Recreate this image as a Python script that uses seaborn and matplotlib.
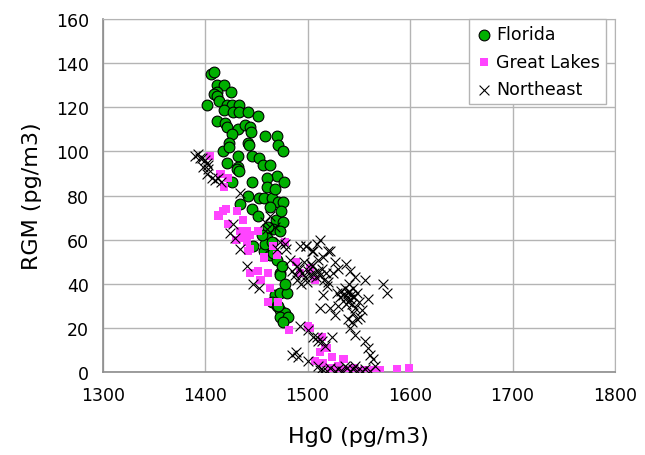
import matplotlib
matplotlib.use('Agg')
import matplotlib.pyplot as plt
import seaborn as sns
import pandas as pd

# Florida
fl_x = [1406, 1409, 1412, 1418, 1412, 1425, 1409, 1412, 1402, 1414,
        1421, 1426, 1433, 1418, 1427, 1433, 1442, 1452, 1412, 1419,
        1421, 1432, 1439, 1444, 1445, 1426, 1458, 1470, 1442, 1471,
        1423, 1443, 1476, 1417, 1423, 1432, 1446, 1453, 1421, 1432,
        1456, 1463, 1431, 1433, 1470, 1460, 1446, 1477, 1426, 1460,
        1442, 1453, 1457, 1465, 1471, 1476, 1434, 1446, 1463, 1452,
        1469, 1476, 1466, 1473, 1460, 1447, 1463, 1457, 1458, 1465,
        1463, 1470, 1473, 1473, 1468, 1473, 1480, 1465, 1470, 1473,
        1478, 1473, 1481, 1476, 1471, 1478, 1475, 1466, 1468, 1474,
        1461, 1455]
fl_y = [135, 136, 130, 130, 127, 127, 126, 125, 121, 123,
        121, 121, 121, 119, 118, 118, 118, 116, 114, 113,
        111, 110, 112, 111, 109, 108, 107, 107, 104, 103,
        104, 103, 100, 100, 102, 98, 98, 97, 95, 93,
        94, 94, 92, 91, 89, 88, 86, 86, 86, 84,
        80, 79, 79, 79, 77, 77, 76, 74, 75, 71,
        69, 68, 65, 64, 61, 57, 57, 55, 58, 59,
        53, 51, 45, 44, 35, 36, 36, 32, 30, 28,
        27, 25, 25, 23, 30, 40, 48, 54, 83, 73,
        66, 62]

# Great Lakes
gl_x = [1405, 1415, 1418, 1417, 1420, 1413, 1431, 1437, 1422, 1434,
        1441, 1452, 1444, 1436, 1441, 1444, 1466, 1478, 1457, 1470,
        1442, 1444, 1452, 1454, 1461, 1463, 1461, 1471, 1482, 1502,
        1514, 1517, 1512, 1507, 1489, 1502, 1519, 1524, 1535, 1522,
        1571, 1587, 1599, 1493, 1507, 1500, 1526, 1533, 1540, 1548,
        1555, 1560, 1565, 1545, 1530, 1515, 1422, 1430]
gl_y = [98, 90, 84, 73, 74, 71, 73, 69, 67, 64,
        64, 64, 62, 61, 59, 56, 57, 59, 52, 53,
        55, 45, 46, 42, 45, 38, 32, 32, 19, 20,
        16, 11, 9, 5, 50, 47, 11, 7, 6, 2,
        1, 1.5, 2, 45, 42, 21, 1, 1, 1, 0.5,
        1, 0.5, 1, 2, 3, 4, 88, 60]

# Northeast
ne_x = [1390, 1393, 1395, 1397, 1400, 1402, 1398, 1403, 1403, 1402,
        1407, 1410, 1413, 1415, 1434, 1427, 1424, 1429, 1434, 1441,
        1447, 1453, 1458, 1463, 1460, 1468, 1473, 1470, 1478, 1479,
        1483, 1498, 1505, 1510, 1490,
        1485, 1488, 1492, 1495, 1497, 1500, 1502, 1504, 1506, 1508,
        1510, 1512, 1514, 1516, 1518, 1490, 1494, 1499, 1503, 1496,
        1512, 1498, 1504, 1520, 1515, 1527, 1537, 1530, 1541, 1546,
        1556, 1574, 1577, 1559, 1529, 1532, 1535, 1539, 1530, 1539,
        1543, 1546, 1527, 1539, 1543, 1551, 1541, 1546, 1524, 1512,
        1522, 1515, 1519, 1525, 1520, 1509, 1522, 1493,
        1536, 1538, 1540, 1541, 1542, 1544, 1537, 1545, 1533, 1540,
        1548, 1550, 1544, 1548, 1553,
        1493, 1500, 1505, 1510, 1517, 1509, 1514, 1556, 1559, 1561, 1564, 1566,
        1485, 1489, 1491, 1500, 1510, 1512, 1522, 1530, 1534, 1538,
        1541, 1544, 1548, 1553, 1556, 1561, 1527, 1519, 1515, 1536, 1546]
ne_y = [98, 99, 97, 97, 96, 95, 93, 94, 92, 90,
        88, 87, 88, 86, 81, 67, 63, 61, 56, 48,
        40, 38, 68, 71, 65, 66, 59, 56, 58, 56,
        51, 57, 55, 51, 48,
        46, 44, 47, 45, 43, 46, 44, 48, 45, 43,
        46, 44, 47, 42, 45, 42, 40, 41, 49, 50,
        60, 57, 55, 55, 52, 50, 49, 47, 46, 43,
        42, 40, 36, 33, 36, 34, 35, 36, 30, 32,
        31, 29, 26, 24, 23, 25, 20, 17, 16, 29,
        29, 35, 39, 45, 41, 58, 55, 57,
        38, 34, 37, 33, 35, 38, 31, 34, 37, 40,
        36, 32, 27, 24, 28,
        21, 19, 16, 14, 12, 16, 14, 14, 11, 8, 6, 3,
        8, 9, 7, 5, 3, 1, 2, 1.5, 0.5, 2,
        0.5, 1.5, 0.5, 0.5, 1.5, 0.5, 0.5, 0.5, 1, 3, 3]

fl = pd.DataFrame({'Hg0': fl_x, 'RGM': fl_y})
gl = pd.DataFrame({'Hg0': gl_x, 'RGM': gl_y})
ne = pd.DataFrame({'Hg0': ne_x, 'RGM': ne_y})

sns.set_style('white')
plt.rcParams['font.family'] = ['DejaVu Sans']
plt.rcParams['text.color'] = 'black'
plt.rcParams['axes.labelcolor'] = 'black'

fig = plt.figure(figsize=(6.45, 4.56), dpi=100)
ax = fig.add_axes([0.1592, 0.1814, 0.7943, 0.7747])

sns.scatterplot(data=fl, x='Hg0', y='RGM', ax=ax, marker='o', s=60,
                color='#00B000', edgecolor='black', linewidth=0.8,
                label='Florida', zorder=3)
sns.scatterplot(data=gl, x='Hg0', y='RGM', ax=ax, marker='s', s=34,
                color='#FF44FF', edgecolor='none', linewidth=0,
                label='Great Lakes', zorder=4)
sns.scatterplot(data=ne, x='Hg0', y='RGM', ax=ax, marker='x', s=50,
                color='black', linewidth=0.8,
                label='Northeast', zorder=5)

ax.set_xlim(1300, 1800)
ax.set_ylim(0, 160)
ax.set_xticks(range(1300, 1801, 100))
ax.set_yticks(range(0, 161, 20))
ax.grid(True, color='#B4B4B4', linewidth=1.0)
ax.set_axisbelow(True)
for side in ['top', 'right']:
    ax.spines[side].set_color('#B4B4B4')
for side in ['left', 'bottom']:
    ax.spines[side].set_color('#8C8C8C')
    ax.spines[side].set_linewidth(1.2)
ax.tick_params(axis='both', direction='out', length=4, color='#8C8C8C',
               labelcolor='black', labelsize=12.5, pad=6)
ax.set_xlabel('Hg0 (pg/m3)', fontsize=16, labelpad=16)
ax.set_ylabel('RGM (pg/m3)', fontsize=16, labelpad=10)

leg = ax.legend(loc='upper right', bbox_to_anchor=(0.983, 1.0), fontsize=12.5,
                frameon=True, fancybox=False, framealpha=1,
                edgecolor='#B4B4B4', borderpad=0.35, labelspacing=0.55,
                handletextpad=0.2, handlelength=1.0, borderaxespad=0)
leg.get_frame().set_linewidth(1.0)
for t in leg.get_texts():
    t.set_color('black')

fig.savefig('out.png', dpi=100)
